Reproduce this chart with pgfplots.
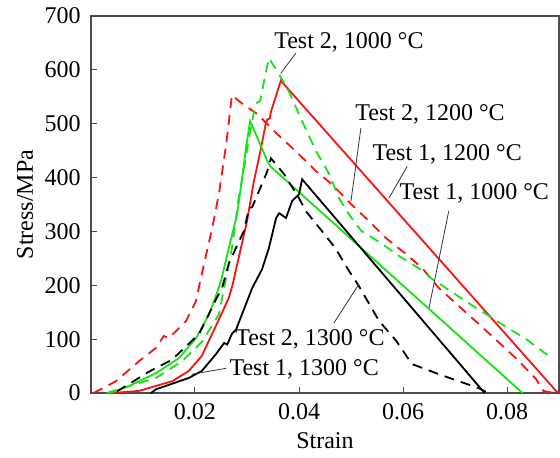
\documentclass[border=0pt]{standalone}
\usepackage{pgfplots}
\pgfplotsset{compat=1.18}
\usepackage{fontspec}
\setmainfont{Liberation Serif}
\definecolor{myred}{RGB}{245,20,20}
\definecolor{mygreen}{RGB}{25,225,25}
\begin{document}
\fontsize{12}{14}\selectfont
\begin{tikzpicture}
\begin{axis}[
  width=234pt, height=188.5pt, scale only axis,
  xmin=0, xmax=0.09, ymin=0, ymax=700,
  scaled x ticks=false,
  xtick={0.02,0.04,0.06,0.08}, xticklabels={0.02,0.04,0.06,0.08},
  ytick={0,100,...,700},
  tick align=inside, tick pos=left,
  major tick length=3pt,
  tick style={black!70, line width=0.5pt},
  axis line style={black!70, line width=0.6pt},
  /pgf/number format/assume math mode=true,
  ticklabel style={font=\fontsize{12}{14}\selectfont},
  yticklabel style={xshift=-1pt},
  xticklabel style={yshift=-1pt},
  xlabel={Strain}, ylabel={Stress/MPa},
  every axis x label/.style={at={(axis description cs:0.5,-0.127)}, anchor=center},
  every axis y label/.style={at={(axis description cs:-0.141,0.5)}, anchor=center, rotate=90},
  clip=true,
  dashpat/.style={dash pattern=on 5pt off 3.5pt},
]
% Test 1, 1200 C (red solid)
\addplot[myred, line width=0.9pt] coordinates {
(0.004,0) (0.0092,4) (0.0156,22) (0.0188,41) (0.0213,69) (0.0233,110) (0.0252,149) (0.0265,177) (0.0272,200) (0.0300,319) (0.0313,392) (0.0327,455) (0.0336,500) (0.0339,508) (0.0344,510) (0.0346,522) (0.0365,580) (0.0898,0)};
% Test 2, 1200 C (red dashed)
\addplot[myred, line width=0.9pt, dashpat] coordinates {
(0.0005,0) (0.0048,22) (0.0092,59) (0.0125,84) (0.014,106) (0.015,102) (0.0183,134) (0.0202,171) (0.021,208) (0.0233,306) (0.0246,370) (0.026,462) (0.0271,553) (0.029,538) (0.032,518) (0.0358,481) (0.0394,449) (0.0433,412) (0.0463,388) (0.050,351) (0.0535,319) (0.0567,288) (0.0606,258) (0.0637,232) (0.0669,195) (0.0746,128) (0.0817,65) (0.0856,26) (0.087,4) (0.089,0)};
% Test 1, 1000 C (green solid)
\addplot[mygreen, line width=0.9pt] coordinates {
(0.0035,0) (0.0073,13) (0.0125,37) (0.0169,65) (0.0202,102) (0.0227,146) (0.0240,180) (0.0250,208) (0.0265,269) (0.0281,332) (0.0290,394) (0.0298,455) (0.0306,505) (0.0320,474) (0.0339,431) (0.0345,421) (0.0830,0)};
% Test 2, 1000 C (green dashed)
\addplot[mygreen, line width=0.9pt, dashpat] coordinates {
(0.003,0) (0.006,9) (0.0125,28) (0.0175,59) (0.0214,96) (0.0246,146) (0.0256,195) (0.0271,269) (0.0285,369) (0.029,394) (0.0304,474) (0.0315,530) (0.0320,540) (0.0325,542) (0.0342,622) (0.036,595) (0.038,561) (0.0406,505) (0.0433,449) (0.0458,407) (0.0477,362) (0.0496,332) (0.052,301) (0.056,277) (0.059,256) (0.063,232) (0.0656,212) (0.072,171) (0.078,134) (0.0837,100) (0.088,69)};
% Test 1, 1300 C (black solid)
\addplot[black, line width=0.9pt] coordinates {
(0.0115,0) (0.0125,7) (0.0188,28) (0.0213,41) (0.024,72) (0.0256,93) (0.0262,90) (0.0271,110) (0.0279,118) (0.031,195) (0.0329,230) (0.0342,269) (0.0356,325) (0.0362,334) (0.0375,325) (0.0387,357) (0.040,369) (0.0406,397) (0.0757,0)};
% Test 2, 1300 C (black dashed)
\addplot[black, line width=0.9pt, dashpat] coordinates {
(0.005,3) (0.0112,40) (0.0156,62) (0.0208,110) (0.0242,177) (0.0252,195) (0.0265,240) (0.0279,270) (0.0294,301) (0.0304,344) (0.031,345) (0.0323,375) (0.0339,412) (0.0346,436) (0.0371,407) (0.040,362) (0.0413,338) (0.0444,301) (0.047,269) (0.0496,227) (0.0515,199) (0.0554,134) (0.0587,97) (0.0617,54) (0.0669,35) (0.0746,9) (0.076,2)};
% annotations
\node[inner sep=0pt] at (axis cs:0.0496,652) {Test 2, 1000 °C};
\draw[black!80, line width=0.4pt] (axis cs:0.0394,631) -- (axis cs:0.0365,594);
\node[inner sep=0pt] at (axis cs:0.0652,518) {Test 2, 1200 °C};
\draw[black!80, line width=0.4pt] (axis cs:0.0519,492) -- (axis cs:0.050,357);
\node[inner sep=0pt] at (axis cs:0.0685,444) {Test 1, 1200 °C};
\draw[black!80, line width=0.4pt] (axis cs:0.0608,421) -- (axis cs:0.0573,362);
\node[inner sep=0pt] at (axis cs:0.0737,370) {Test 1, 1000 °C};
\draw[black!80, line width=0.4pt] (axis cs:0.0688,338) -- (axis cs:0.065,158);
\node[inner sep=0pt] at (axis cs:0.0421,100) {Test 2, 1300 °C};
\draw[black!80, line width=0.4pt] (axis cs:0.0467,130) -- (axis cs:0.0515,202);
\node[inner sep=0pt] at (axis cs:0.041,44) {Test 1, 1300 °C};
\draw[black!80, line width=0.4pt] (axis cs:0.026,46) -- (axis cs:0.0194,35);
\end{axis}
\path (current axis.south west) ++(-45.5pt,-30pt) coordinate (bbA);
\path (current axis.north east) ++(0.5pt,7.5pt) coordinate (bbB);
\path (bbA) rectangle (bbB);
\end{tikzpicture}
\end{document}
